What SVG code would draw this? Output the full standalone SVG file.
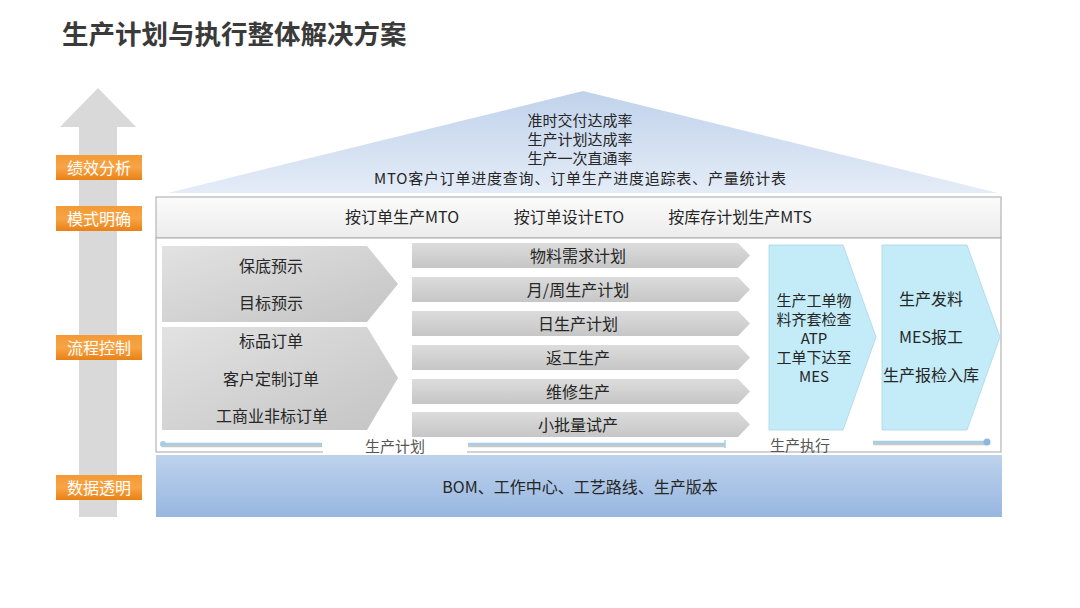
<svg xmlns="http://www.w3.org/2000/svg" width="1080" height="608" viewBox="0 0 1080 608">
<defs>
<linearGradient id="roofG" x1="0" y1="0" x2="0" y2="1"><stop offset="0" stop-color="#c0d2eb"/><stop offset="1" stop-color="#e4ecf7"/></linearGradient>
<linearGradient id="bandG" x1="0" y1="0" x2="0" y2="1"><stop offset="0" stop-color="#fbfbfb"/><stop offset="1" stop-color="#ececec"/></linearGradient>
<linearGradient id="dataG" x1="0" y1="0" x2="0" y2="1"><stop offset="0" stop-color="#bdd2ec"/><stop offset="1" stop-color="#97b7e0"/></linearGradient>
<linearGradient id="grayG" x1="0" y1="0" x2="1" y2="1"><stop offset="0" stop-color="#e2e2e2"/><stop offset="1" stop-color="#c4c4c4"/></linearGradient>
<linearGradient id="barG" x1="0" y1="0" x2="0" y2="1"><stop offset="0" stop-color="#dcdcdc"/><stop offset="1" stop-color="#c6c6c6"/></linearGradient>
<linearGradient id="orG" x1="0" y1="0" x2="0" y2="1"><stop offset="0" stop-color="#f49a35"/><stop offset="0.5" stop-color="#f7a445"/><stop offset="1" stop-color="#e98116"/></linearGradient>
</defs>
<style>
text{font-family:"Microsoft YaHei","Noto Sans CJK SC","Noto Sans",sans-serif;fill:#262626;text-anchor:middle}
.t16{font-size:16px}
.t15{font-size:15px}
.lab{font-size:16px;fill:#fff}
.cap{font-size:15px;fill:#555}
.or{fill:url(#orG)}
.chev{fill:url(#grayG)}
.bar{fill:url(#barG)}
.blue{fill:#c3ecf8;stroke:#a9d6e8;stroke-width:0.8}
.ln{stroke:#a8cde6;stroke-width:2.5;fill:none}
.lns{stroke:#c8c8c8;stroke-width:2.5;fill:none}
</style>
<rect width="1080" height="608" fill="#fff"/>
<text x="62" y="44" style="font-size:26.5px;font-weight:bold;text-anchor:start;fill:#3a3a3a">生产计划与执行整体解决方案</text>

<g id="axis">
<polygon points="98,88 136,127 117,127 117,517 79,517 79,127 60,127" fill="#d9d9d9"/>
</g>
<g id="label-perf"><rect class="or" x="56" y="155" width="86" height="25"/><text class="lab" x="99" y="173.5">绩效分析</text></g>
<g id="label-mode"><rect class="or" x="56" y="206" width="86" height="25"/><text class="lab" x="99" y="224.5">模式明确</text></g>
<g id="label-flow"><rect class="or" x="56" y="335" width="86" height="25"/><text class="lab" x="99" y="353.5">流程控制</text></g>
<g id="label-data"><rect class="or" x="56" y="475" width="86" height="25"/><text class="lab" x="99" y="493.5">数据透明</text></g>

<g id="roof">
<polygon points="583,91 998,193 168,193" fill="url(#roofG)"/>
<text class="t15" x="580" y="126">准时交付达成率</text>
<text class="t15" x="580" y="145">生产计划达成率</text>
<text class="t15" x="580" y="164">生产一次直通率</text>
<text class="t15" x="580" y="184" textLength="412" lengthAdjust="spacing">MTO客户订单进度查询、订单生产进度追踪表、产量统计表</text>
</g>

<g id="mode-band">
<rect x="156" y="197" width="845" height="41" fill="url(#bandG)" stroke="#b5b5b5" stroke-width="1.2"/>
<text class="t16" x="402" y="223">按订单生产MTO</text>
<text class="t16" x="569" y="223">按订单设计ETO</text>
<text class="t16" x="740" y="223">按库存计划生产MTS</text>
</g>

<g id="flow-area">
<rect x="156" y="238" width="845" height="214" fill="#fff" stroke="#b5b5b5" stroke-width="1.2"/>
</g>

<g id="forecast">
<polygon class="chev" points="162,246 367,246 398,284 367,322 162,322"/>
<text class="t16" x="271" y="272">保底预示</text>
<text class="t16" x="271" y="309">目标预示</text>
</g>
<g id="orders">
<polygon class="chev" points="162,327 367,327 398,378 367,430 162,430"/>
<text class="t16" x="271" y="347">标品订单</text>
<text class="t16" x="271" y="385">客户定制订单</text>
<text class="t16" x="272" y="422">工商业非标订单</text>
</g>

<g id="plan-mrp"><polygon class="bar" points="412,243 738,243 750,255.5 738,268 412,268"/><text class="t16" x="578" y="261.5">物料需求计划</text></g>
<g id="plan-week"><polygon class="bar" points="412,277 738,277 750,289.5 738,302 412,302"/><text class="t16" x="578" y="295.5">月/周生产计划</text></g>
<g id="plan-day"><polygon class="bar" points="412,311 738,311 750,323.5 738,336 412,336"/><text class="t16" x="578" y="329.5">日生产计划</text></g>
<g id="plan-rework"><polygon class="bar" points="412,345 738,345 750,357.5 738,370 412,370"/><text class="t16" x="578" y="363.5">返工生产</text></g>
<g id="plan-repair"><polygon class="bar" points="412,379 738,379 750,391.5 738,404 412,404"/><text class="t16" x="578" y="397.5">维修生产</text></g>
<g id="plan-pilot"><polygon class="bar" points="412,412 738,412 750,424.5 738,437 412,437"/><text class="t16" x="578" y="430.5">小批量试产</text></g>

<g id="exec-check">
<polygon class="blue" points="769,245 843,245 876,337 843,430 769,430"/>
<text class="t15" x="814" y="306">生产工单物</text>
<text class="t15" x="814" y="325">料齐套检查</text>
<text class="t15" x="814" y="344">ATP</text>
<text class="t15" x="814" y="363">工单下达至</text>
<text class="t15" x="814" y="382">MES</text>
</g>
<g id="exec-run">
<polygon class="blue" points="882,245 967,245 1000,337 967,430 882,430"/>
<text class="t16" x="931" y="305">生产发料</text>
<text class="t16" x="931" y="343">MES报工</text>
<text class="t16" x="931" y="381">生产报检入库</text>
</g>

<g id="connectors">
<line class="lns" x1="162" y1="446" x2="322" y2="446"/>
<line class="ln" x1="162" y1="444" x2="322" y2="444"/>
<circle cx="163" cy="444" r="3" fill="#a8cde6"/>
<line class="lns" x1="468" y1="446" x2="725" y2="446"/>
<line class="ln" x1="468" y1="444" x2="725" y2="444"/>
<line x1="725" y1="440" x2="725" y2="448" stroke="#a8cde6" stroke-width="1.5"/>
<line class="lns" x1="873" y1="444" x2="987" y2="444"/>
<line class="ln" x1="873" y1="442" x2="987" y2="442"/>
<circle cx="987" cy="442" r="3.5" fill="#8fb6de"/>
</g>
<g id="phase-labels">
<rect x="323" y="438" width="144" height="16" fill="#fff"/>
<text class="cap" x="395" y="452">生产计划</text>
<text class="cap" x="800" y="451">生产执行</text>
</g>

<g id="data-band">
<rect x="156" y="455" width="846" height="62" fill="url(#dataG)"/>
<text class="t16" x="580" y="493">BOM、工作中心、工艺路线、生产版本</text>
</g>
</svg>
